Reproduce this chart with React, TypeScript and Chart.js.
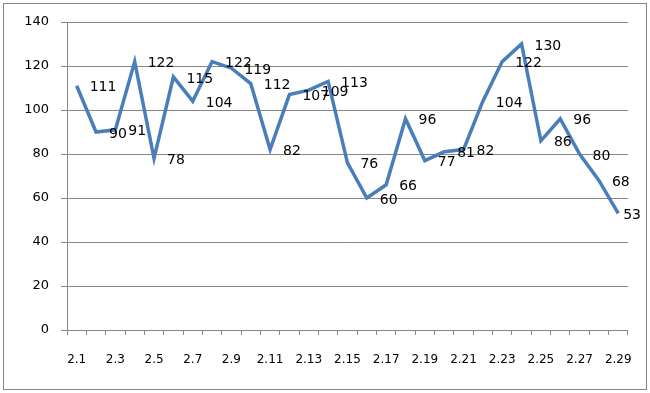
import React, { useEffect, useRef } from "react";
import { Chart, registerables } from "chart.js";

Chart.register(...registerables);

const categories: string[] = [
  "2.1", "2.2", "2.3", "2.4", "2.5", "2.6", "2.7", "2.8", "2.9", "2.10",
  "2.11", "2.12", "2.13", "2.14", "2.15", "2.16", "2.17", "2.18", "2.19", "2.20",
  "2.21", "2.22", "2.23", "2.24", "2.25", "2.26", "2.27", "2.28", "2.29",
];

const values: number[] = [
  111, 90, 91, 122, 78, 115, 104, 122, 119, 112,
  82, 107, 109, 113, 76, 60, 66, 96, 77, 81,
  82, 104, 122, 130, 86, 96, 80, 68, 53,
];

const yTicks: number[] = [0, 20, 40, 60, 80, 100, 120, 140];

const FONT = "'DejaVu Sans', Verdana, sans-serif";

const dataLabelPlugin = {
  id: "dataLabels",
  afterDatasetsDraw(chart: any) {
    const ctx = chart.ctx;
    const meta = chart.getDatasetMeta(0);
    ctx.save();
    ctx.font = `14px ${FONT}`;
    ctx.fillStyle = "#000000";
    ctx.textAlign = "left";
    ctx.textBaseline = "middle";
    meta.data.forEach((pt: any, i: number) => {
      const txt = String(values[i]);
      const w = ctx.measureText(txt).width;
      const x = Math.min(pt.x + 13, 641 - w);
      ctx.fillText(txt, x, pt.y + 2);
    });
    ctx.restore();
  },
};

export default function App() {
  const canvasRef = useRef<HTMLCanvasElement | null>(null);

  useEffect(() => {
    document.body.style.margin = "0";
    const canvas = canvasRef.current;
    if (!canvas) return;
    const chart = new Chart(canvas, {
      type: "line",
      data: {
        labels: categories,
        datasets: [
          {
            data: values,
            borderColor: "#4a7ebb",
            borderWidth: 3.5,
            pointRadius: 0,
            tension: 0,
            fill: false,
          },
        ],
      },
      plugins: [dataLabelPlugin],
      options: {
        responsive: false,
        animation: false,
        layout: { padding: { left: 0, top: 22, right: 22, bottom: 0 } },
        plugins: {
          legend: { display: false },
          tooltip: { enabled: false },
        },
        scales: {
          x: {
            offset: true,
            grid: {
              offset: true,
              drawOnChartArea: false,
              drawTicks: true,
              tickLength: 5,
              color: "#868686",
            },
            border: { display: true, color: "#868686", width: 1 },
            ticks: {
              autoSkip: false,
              maxRotation: 0,
              minRotation: 0,
              padding: 18,
              color: "#000000",
              font: { family: FONT, size: 12 },
              callback: (_v: any, i: number) => (i % 2 === 0 ? categories[i] : ""),
            },
            afterFit: (scale: any) => {
              scale.height = 63;
            },
          },
          y: {
            min: 0,
            max: 140,
            afterBuildTicks: (scale: any) => {
              scale.ticks = yTicks.map((v) => ({ value: v }));
            },
            grid: {
              color: "#868686",
              drawTicks: true,
              tickLength: 6,
            },
            border: { display: true, color: "#868686", width: 1 },
            ticks: {
              padding: 12,
              color: "#000000",
              font: { family: FONT, size: 13 },
            },
            afterFit: (scale: any) => {
              scale.width = 67;
            },
          },
        },
      },
    });
    return () => chart.destroy();
  }, []);

  return (
    <div style={{ position: "relative", width: 650, height: 393, background: "#fff" }}>
      <canvas ref={canvasRef} width={650} height={393} style={{ position: "absolute", left: 0, top: 0 }} />
      <div
        style={{
          position: "absolute",
          left: 3,
          top: 3,
          width: 642,
          height: 385,
          border: "1px solid #868686",
          pointerEvents: "none",
        }}
      />
    </div>
  );
}
